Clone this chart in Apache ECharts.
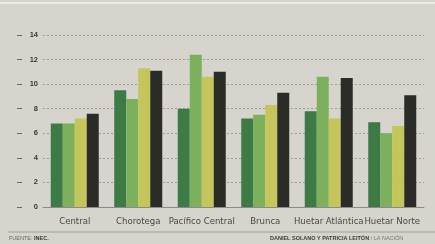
<!DOCTYPE html>
<html><head><meta charset="utf-8">
<script src="https://cdn.jsdelivr.net/npm/echarts@6/dist/echarts.min.js"></script>
<style>html,body{margin:0;padding:0;background:#d7d4cd;}#c{width:435px;height:244px;}</style>
</head><body><div id="c"></div>
<script>
const categories = ['Central','Chorotega','Pacífico Central','Brunca','Huetar Atlántica','Huetar Norte'];
const serieA = [6.8, 9.5, 8.0, 7.2, 7.8, 6.9];
const serieB = [6.8, 8.8, 12.4, 7.5, 10.6, 6.0];
const serieC = [7.2, 11.3, 10.6, 8.3, 7.2, 6.6];
const serieD = [7.6, 11.1, 11.0, 9.3, 10.5, 9.1];
const colors = ['#3e7a46', '#7db05c', '#c4c65c', '#2b2b28'];

const chart = echarts.init(document.getElementById('c'));
const mk = (d, i) => ({type:'bar', data:d, barWidth:12, barGap:'0%', itemStyle:{color:colors[i]}, animation:false});
chart.setOption({
  backgroundColor:'#d7d4cd',
  animation:false,
  grid:{left:43, right:11, top:35, bottom:37},
  xAxis:{type:'category', data:categories, offset:4,
    axisLine:{lineStyle:{color:'#8e8b85', width:1}}, axisTick:{show:false},
    axisLabel:{interval:0, hideOverlap:false, color:'#4a4844', fontSize:9.5, fontFamily:'Liberation Sans Narrow, DejaVu Sans Condensed, Arial, sans-serif', margin:6}},
  yAxis:[{type:'value', min:0, max:14, interval:2,
    axisLine:{show:false}, axisTick:{show:false},
    axisLabel:{color:'#3a3835', fontSize:7.5, fontWeight:'bold', fontFamily:'Liberation Sans, Arial, sans-serif', margin:5},
    splitLine:{lineStyle:{color:'#a19e97', type:[2,2], width:1}}},
   {type:'value', min:0, max:14, interval:2, position:'left', offset:21,
    axisLine:{show:false}, axisLabel:{show:false}, splitLine:{show:false},
    axisTick:{show:true, length:5, lineStyle:{color:'#6d6a65'}}}],
  series:[mk(serieA,0), mk(serieB,1), mk(serieC,2), mk(serieD,3)],
  graphic:[
    {type:'line', shape:{x1:0,y1:3,x2:435,y2:3}, style:{stroke:'#eeece8', lineWidth:2}},
    {type:'line', shape:{x1:8,y1:232,x2:435,y2:232}, style:{stroke:'#a29f99', lineWidth:1}},
    {type:'text', left:9, top:235, style:{text:'FUENTE: {b|INEC.}', fill:'#6a6864', fontSize:5.5, fontFamily:'Liberation Sans, Arial, sans-serif', rich:{b:{fontWeight:'bold', fill:'#3a3835', fontSize:5.5}}}},
    {type:'text', left:270, top:235, style:{text:'DANIEL SOLANO Y PATRICIA LEITÓN {l|/ LA NACIÓN}', fill:'#3e3c38', fontSize:5.5, fontWeight:'bold', fontFamily:'Liberation Sans, Arial, sans-serif', rich:{l:{fontWeight:'normal', fill:'#7a7873', fontSize:5.5}}}}
  ]
});
</script></body></html>
